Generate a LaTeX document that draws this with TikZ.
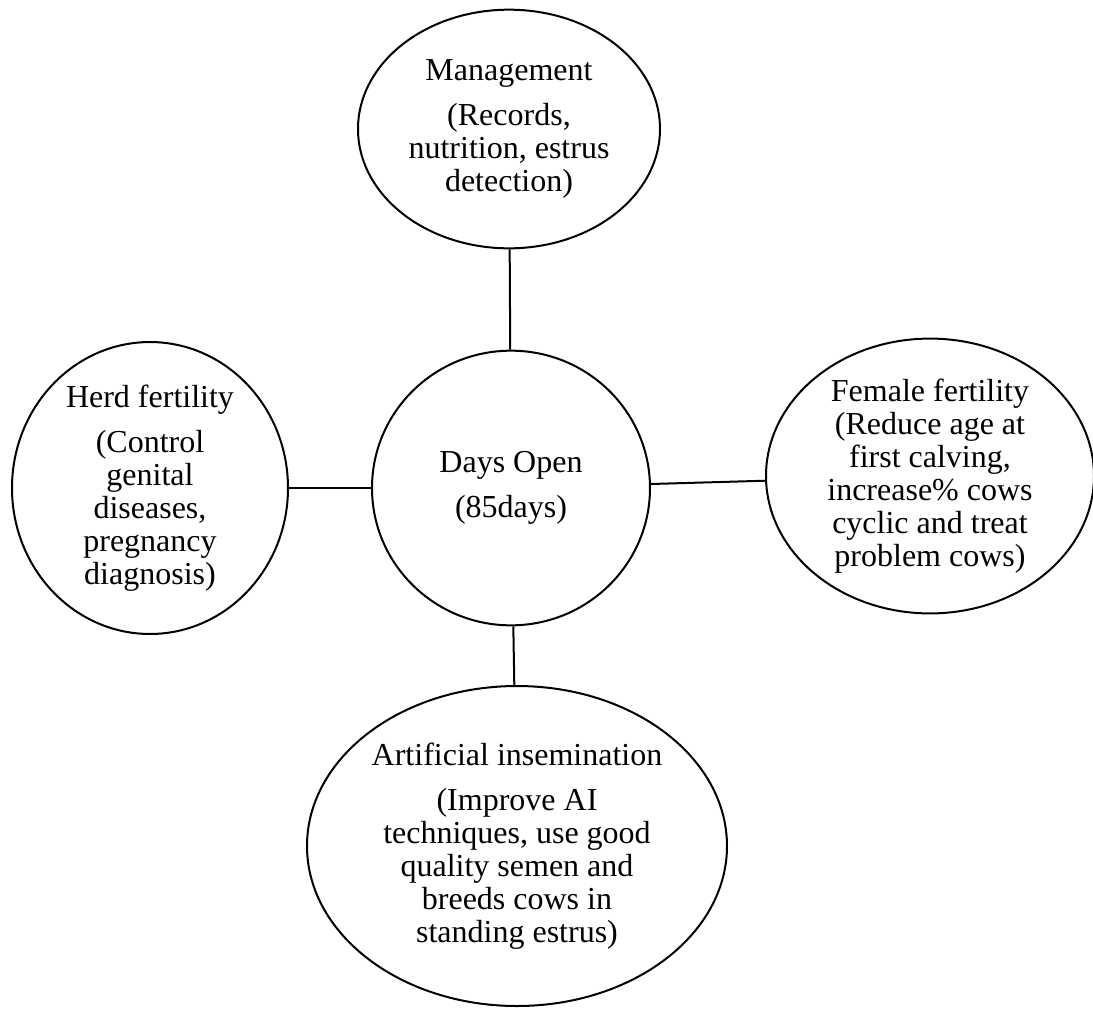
\documentclass[tikz,border=0pt]{standalone}
\usepackage{fontspec}
\setmainfont{Liberation Serif}
\usetikzlibrary{shapes,positioning}

\begin{document}
\begin{tikzpicture}[x=0.75pt,y=-0.75pt,
  bubble/.style={draw, ellipse, line width=1.5pt, inner sep=0pt, align=center,
    font=\fontsize{24}{24.75}\selectfont},
  link/.style={draw, line width=1.5pt}]
\useasboundingbox (0,0) rectangle (1093,1008);
\node[bubble, minimum width=226.5pt, minimum height=179pt] (mgmt) at (509,129)
  {Management\\[9pt](Records,\\nutrition, estrus\\detection)};
\node[bubble, minimum width=208.5pt, minimum height=206pt] (days) at (511,488)
  {Days Open\\[9pt](85days)};
\node[bubble, minimum width=207pt, minimum height=208pt] (herd) at (150,488)
  {Herd fertility\\[9pt](Control\\genital\\diseases,\\pregnancy\\diagnosis)};
\node[bubble, minimum width=246pt, minimum height=206pt] (female) at (930,476)
  {Female fertility\\(Reduce age at\\first calving,\\increase\% cows\\cyclic and treat\\problem cows)};
\node[bubble, minimum width=315pt, minimum height=240pt] (ai) at (517,846)
  {Artificial insemination\\[9pt](Improve AI\\techniques, use good\\quality semen and\\breeds cows in\\standing estrus)};
% connectors
\path[link] (mgmt) -- (days);
\path[link] (herd) -- (days);
\path[link] (days) -- (female);
\path[link] (days) -- (ai);
\end{tikzpicture}
\end{document}
